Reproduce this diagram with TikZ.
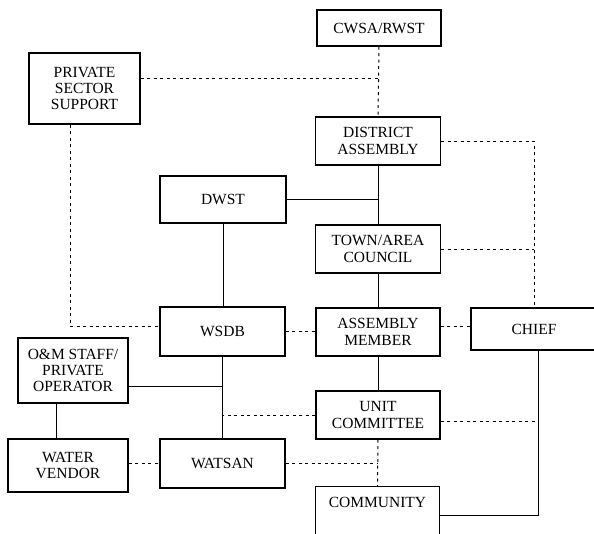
\documentclass[tikz,border=0pt]{standalone}
\usepackage{fontspec}
\setmainfont{Liberation Serif}

\begin{document}
\begin{tikzpicture}[x=1pt, y=-1pt, line width=1pt,
  unit/.style={draw, line width=1.2pt, align=center, inner sep=3pt,
    font=\fontsize{15.5}{16.3}\selectfont},
  loose/.style={line width=1pt, dash pattern=on 3pt off 3.5pt}]
  \useasboundingbox (0,0) rectangle (594,533);
  % boxes
  \node[unit, minimum width=124, minimum height=36] (cwsa) at (379,28) {CWSA/RWST};
  \node[unit, minimum width=111, minimum height=71] (pss) at (84.5,88.5) {PRIVATE\\SECTOR\\SUPPORT};
  \node[unit, minimum width=125, minimum height=48] (da) at (378,141) {DISTRICT\\ASSEMBLY};
  \node[unit, minimum width=126, minimum height=47] (dwst) at (223,199.5) {DWST};
  \node[unit, minimum width=125, minimum height=48] (town) at (378,249) {TOWN/AREA\\COUNCIL};
  \node[unit, minimum width=125, minimum height=49] (wsdb) at (222.5,331.5) {WSDB};
  \node[unit, minimum width=124, minimum height=48] (am) at (378,332) {ASSEMBLY\\MEMBER};
  \node[unit, minimum width=126, minimum height=42] (chief) at (534,329) {CHIEF};
  \node[unit, minimum width=110, minimum height=65] (om) at (73,370.5) {O\&M STAFF/\\PRIVATE\\OPERATOR};
  \node[unit, minimum width=124, minimum height=48] (uc) at (378,415) {UNIT\\COMMITTEE};
  \node[unit, minimum width=120, minimum height=53] (wv) at (68,465.5) {WATER\\VENDOR};
  \node[unit, minimum width=125, minimum height=49] (watsan) at (222.5,463.5) {WATSAN};
  \node[unit, minimum width=124, text height=18pt, text depth=34pt, anchor=north] (comm) at (377.5,486) {COMMUNITY};
  % helper points
  \coordinate (psj) at ([yshift=10pt]pss.east);
  \coordinate (psd) at ([xshift=-14.5pt]pss.south);
  \coordinate (amj) at ([yshift=6pt]am.east);
  \coordinate (ucj) at ([yshift=-6pt]uc.east);
  \coordinate (omj) at ([yshift=-15.5pt]om.east);
  \coordinate (omd) at ([xshift=-17pt]om.south);
  \coordinate (chd) at ([xshift=4pt]chief.south);
  % solid links
  \draw (da.south) -- (town.north);
  \draw (dwst.east) -- (dwst.east -| da.south);
  \draw (dwst.south) -- (dwst.south |- wsdb.north);
  \draw (town.south) -- (am.north);
  \draw (am.south) -- (uc.north);
  \draw (wsdb.south) -- (wsdb.south |- watsan.north);
  \draw (omj) -- (omj -| wsdb.south);
  \draw (omd) -- (omd |- wv.north);
  \draw (chd) |- (comm.east);
  % dotted links
  \draw[loose] (cwsa.south) -- (da.north);
  \draw[loose] (psj) -- (psj -| cwsa.south);
  \draw[loose] (psd) |- ([yshift=5.5pt]wsdb.west);
  \draw[loose] (da.east) -| (chief.north);
  \draw[loose] (town.east) -- (town.east -| chief.north);
  \draw[loose] (wsdb.east) -- (wsdb.east -| am.west);
  \draw[loose] (amj) -- (amj -| chief.west);
  \draw[loose] (ucj) -- (ucj -| chd);
  \draw[loose] (uc.west) -- (uc.west -| wsdb.south);
  \draw[loose] (uc.south) -- (comm.north);
  \draw[loose] (watsan.east) -- (watsan.east -| uc.south);
  \draw[loose] (wv.east |- watsan.west) -- (watsan.west);
\end{tikzpicture}
\end{document}
